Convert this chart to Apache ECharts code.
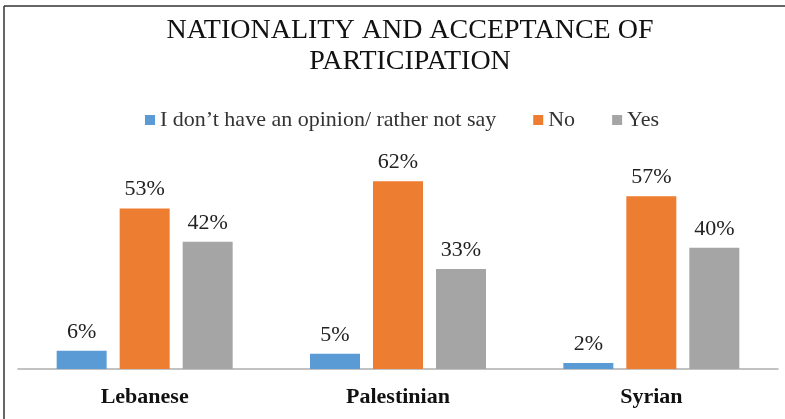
<!DOCTYPE html>
<html>
<head>
<meta charset="utf-8">
<script src="https://cdn.jsdelivr.net/npm/echarts@6/dist/echarts.min.js"></script>
<style>
html,body{margin:0;padding:0;background:#fff;}
#chart{width:785px;height:419px;}
</style>
</head>
<body>
<div id="chart"></div>
<script>
const categories = ['Lebanese', 'Palestinian', 'Syrian'];
const seriesNames = ['I don\u2019t have an opinion/ rather not say', 'No', 'Yes'];
const noOpinion = [6, 5, 2];
const noValues = [53, 62, 57];
const yesValues = [42, 33, 40];
const colors = ['#5B9BD5', '#ED7D31', '#A5A5A5'];

const font = 'Liberation Serif';
const chart = echarts.init(document.getElementById('chart'));
const mk = (name, data, color) => ({
  name: name,
  type: 'bar',
  data: data,
  barWidth: 50,
  barGap: '26%',
  itemStyle: { color: color },
  label: {
    show: true,
    position: 'top',
    distance: 8,
    formatter: '{c}%',
    fontFamily: font,
    fontSize: 22,
    color: '#222'
  }
});
chart.setOption({
  animation: false,
  title: {
    text: 'NATIONALITY AND ACCEPTANCE OF\nPARTICIPATION',
    left: 405,
    textAlign: 'center',
    top: 10,
    textStyle: { fontFamily: font, fontSize: 28, fontWeight: 'normal', color: '#111', lineHeight: 31 }
  },
  legend: {
    data: seriesNames,
    top: 104,
    left: 140,
    itemWidth: 10,
    itemHeight: 10,
    itemGap: 37,
    icon: 'rect',
    textStyle: { fontFamily: font, fontSize: 22, color: '#333' }
  },
  grid: { left: 18, right: 7, top: 157, bottom: 50, containLabel: false },
  xAxis: {
    type: 'category',
    data: categories,
    axisLine: { lineStyle: { color: '#AFAFAF', width: 1.5 } },
    axisTick: { show: false },
    axisLabel: { fontFamily: font, fontSize: 22, fontWeight: 'bold', color: '#111', margin: 17 }
  },
  yAxis: {
    type: 'value',
    min: 0,
    max: 70,
    show: false,
    splitLine: { show: false }
  },
  series: [
    mk(seriesNames[0], noOpinion, colors[0]),
    mk(seriesNames[1], noValues, colors[1]),
    mk(seriesNames[2], yesValues, colors[2])
  ],
  graphic: [
    { type: 'line', shape: { x1: 4, y1: 6, x2: 785, y2: 6 }, style: { stroke: '#333', lineWidth: 1.5 } },
    { type: 'line', shape: { x1: 4, y1: 6, x2: 4, y2: 419 }, style: { stroke: '#333', lineWidth: 1.5 } }
  ]
});
</script>
</body>
</html>
